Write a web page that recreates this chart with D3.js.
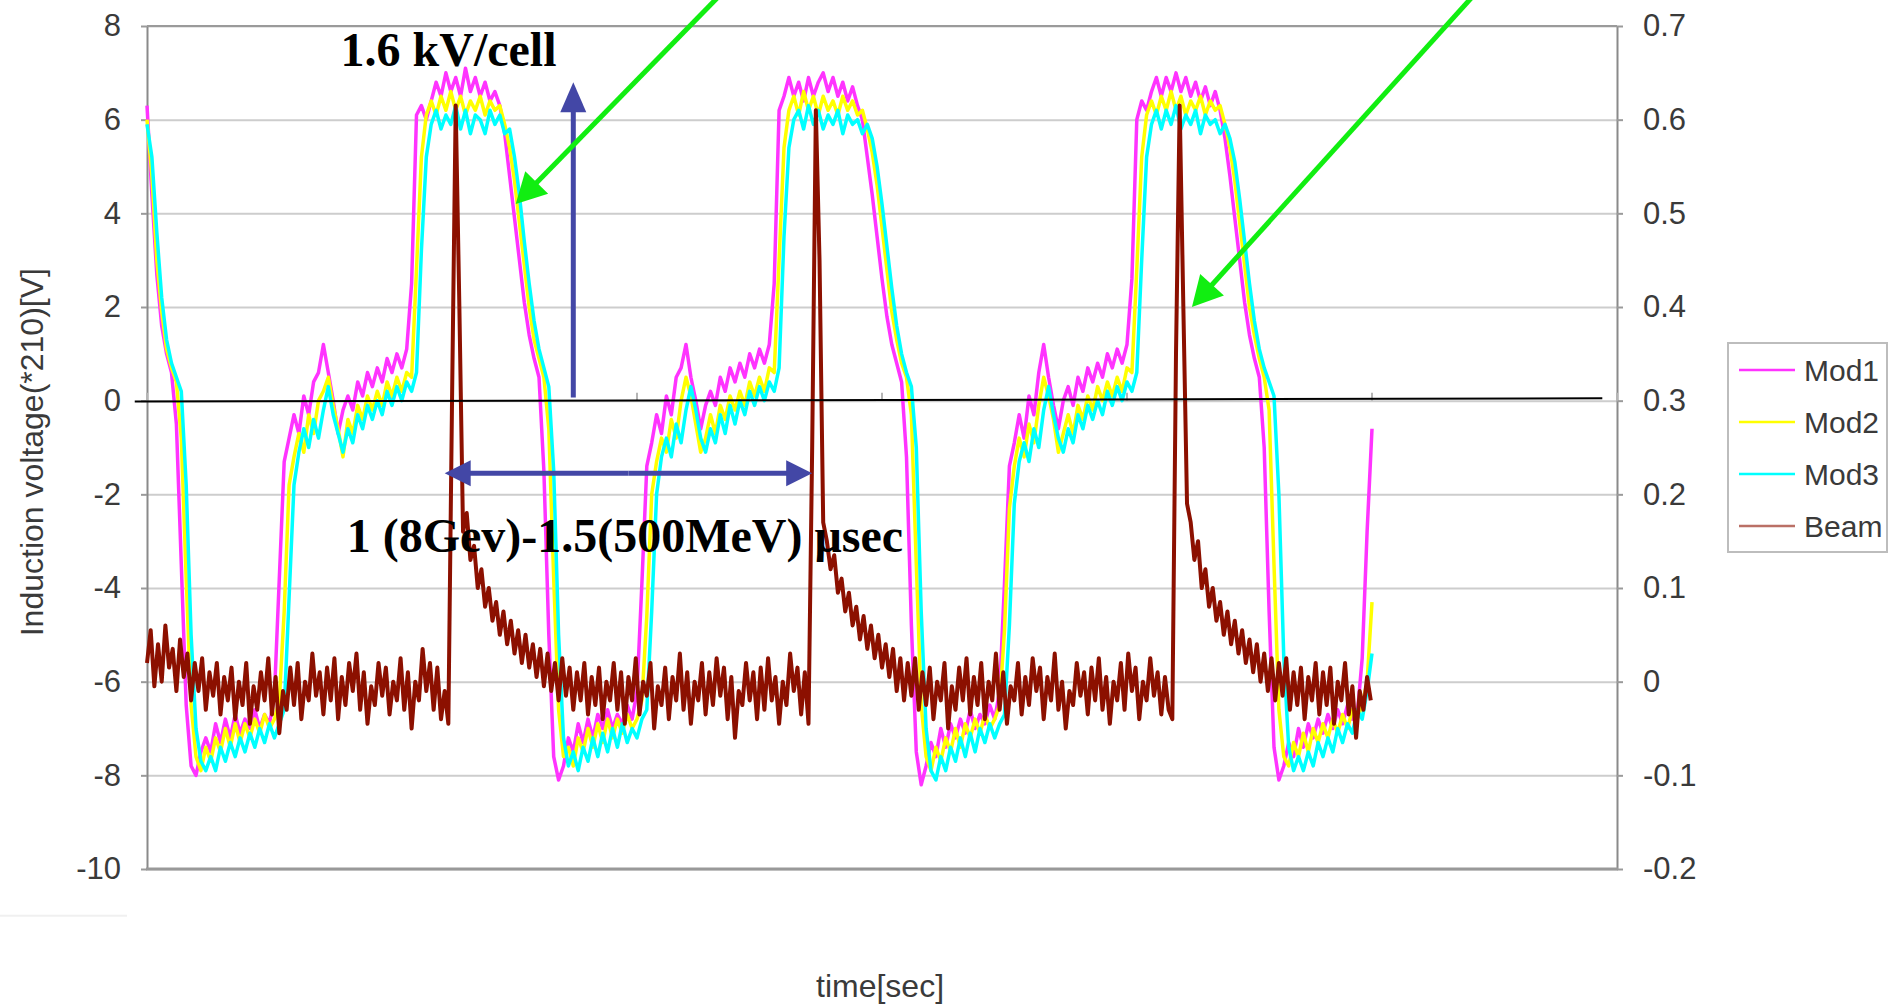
<!DOCTYPE html>
<html>
<head>
<meta charset="utf-8">
<script src="https://cdn.jsdelivr.net/npm/d3@7"></script>
<style>
  html, body { margin: 0; padding: 0; background: #fff; }
  svg { display: block; }
  .tick text { font-family: "Liberation Sans", Arial, sans-serif; font-size: 31px; fill: #3a3a3a; }
</style>
</head>
<body>
<svg id="chart" width="1892" height="1005"></svg>
<script>
// sampling interval of the scope traces (time units, axis has no labels)
const modStep = 4;
const beamStep = 3;

// induction voltage of the three modules, left axis [V]
const mod1 = [6.3, 4.4, 2.7, 1.6, 1.0, 0.6,
  -0.5, -3.5, -6.5, -7.8, -8.0, -7.5, -7.2, -7.5, -6.9, -7.3, -6.8, -7.2, -6.7, -7.1, -6.8, -7.0, -6.6, -7.0, -6.7, -6.9, -6.3,
  -3.8, -1.3, -0.8, -0.3, -0.7, 0.1, -0.3, 0.4, 0.6, 1.2, 0.6, 0.0, -0.7, -0.2, 0.1, -0.2, 0.4, 0.1, 0.6, 0.3, 0.7, 0.4, 0.9, 0.6, 1.0, 0.7, 1.1,
  2.5, 6.1, 6.3, 6.0, 6.4, 6.8, 6.5, 7.0, 6.6, 6.9, 6.5, 7.1, 6.6, 6.9, 6.5, 6.8, 6.4, 6.6, 6.3,
  5.7, 4.8, 3.9, 3.0, 2.1, 1.4, 0.9, 0.5,
  -1.5, -5.0, -7.6, -8.1, -7.8, -7.2, -7.5, -6.9, -7.3, -6.8, -7.2, -6.7, -7.0, -6.6, -7.0, -6.7, -6.9, -6.5, -6.8, -6.2,
  -3.9, -1.4, -0.9, -0.3, -0.7, 0.1, -0.3, 0.5, 0.7, 1.2, 0.5, 0.0, -0.6, -0.1, 0.2, -0.1, 0.5, 0.2, 0.7, 0.4, 0.8, 0.5, 1.0, 0.7, 1.1, 0.8, 1.2,
  2.5, 6.2, 6.5, 6.9, 6.5, 6.8, 6.4, 6.9, 6.5, 6.8, 7.0, 6.6, 6.9, 6.5, 6.8, 6.4, 6.7, 6.3, 6.0,
  5.2, 4.4, 3.5, 2.6, 1.8, 1.2, 0.8, 0.4,
  -1.2, -4.8, -7.5, -8.2, -7.8, -7.3, -7.6, -7.0, -7.4, -6.9, -7.2, -6.8, -7.1, -6.6, -7.0, -6.7, -6.9, -6.5, -6.8, -6.2,
  -3.9, -1.4, -0.9, -0.3, -0.8, 0.1, -0.3, 0.6, 1.2, 0.5, -0.1, -0.6, 0.0, 0.3, -0.1, 0.5, 0.2, 0.7, 0.4, 0.8, 0.5, 1.0, 0.7, 1.1, 0.8, 1.2,
  2.6, 6.0, 6.4, 6.2, 6.6, 6.9, 6.5, 6.9, 6.6, 7.0, 6.6, 6.9, 6.5, 6.8, 6.4, 6.7, 6.3, 6.6, 6.2,
  5.6, 4.8, 3.9, 3.0, 2.1, 1.4, 0.9, 0.5,
  -1.0, -4.5, -7.4, -8.1, -7.8, -7.3, -7.6, -7.0, -7.4, -6.9, -7.2, -6.8, -7.1, -6.7, -7.0, -6.6, -6.9, -6.5, -6.8, -6.7, -5.5, -2.8, -0.6];

const mod2 = [6.0, 4.8, 3.0, 1.9, 1.1, 0.7, 0.4,
  -0.8, -3.8, -6.5, -7.6, -7.9, -7.4, -7.7, -7.2, -7.5, -7.0, -7.4, -6.9, -7.3, -6.9, -7.2, -6.8, -7.1, -6.7, -7.0, -6.8, -6.4,
  -4.5, -1.8, -1.2, -0.7, -1.1, -0.3, -0.7, 0.0, 0.2, 0.5, -0.1, -0.6, -1.2, -0.4, -0.7, -0.1, -0.4, 0.1, -0.2, 0.2, -0.1, 0.4, 0.1, 0.5, 0.2, 0.6, 0.5,
  2.8, 5.2, 6.1, 6.4, 6.1, 6.5, 6.2, 6.6, 6.2, 6.5, 6.1, 6.4, 6.2, 6.5, 6.1, 6.4, 6.2, 6.3, 5.9,
  5.4, 4.7, 3.8, 2.9, 2.0, 1.3, 0.9, 0.5,
  -0.6, -3.8, -6.6, -7.6, -7.4, -7.8, -7.2, -7.5, -7.0, -7.4, -6.9, -7.3, -6.8, -7.2, -6.8, -7.1, -6.7, -7.0, -6.8, -6.4,
  -4.6, -2.0, -1.3, -0.8, -1.1, -0.4, -0.8, 0.0, 0.5, 0.1, -0.5, -1.1, -0.8, -0.3, -0.7, -0.1, -0.4, 0.1, -0.2, 0.2, -0.1, 0.4, 0.1, 0.5, 0.2, 0.7, 0.6,
  3.0, 5.4, 6.2, 6.5, 6.1, 6.6, 6.2, 6.5, 6.1, 6.5, 6.2, 6.4, 6.1, 6.5, 6.2, 6.4, 6.1, 6.2, 5.8,
  5.3, 4.6, 3.7, 2.8, 1.9, 1.3, 0.8, 0.5,
  -0.3, -3.5, -6.5, -7.6, -7.9, -7.4, -7.7, -7.2, -7.5, -7.0, -7.4, -6.9, -7.2, -6.8, -7.1, -6.7, -7.0, -6.8, -6.5,
  -4.9, -2.3, -1.4, -0.8, -1.2, -0.5, -0.9, -0.1, 0.5, 0.1, -0.4, -1.1, -0.7, -0.3, -0.7, -0.1, -0.4, 0.1, -0.2, 0.3, 0.0, 0.4, 0.1, 0.5, 0.2, 0.7, 0.6,
  2.8, 5.2, 6.1, 6.4, 6.1, 6.5, 6.2, 6.6, 6.2, 6.5, 6.1, 6.4, 6.2, 6.5, 6.1, 6.4, 6.2, 6.3, 5.9,
  5.4, 4.7, 3.8, 2.9, 2.0, 1.4, 0.9, 0.5,
  -0.2, -3.5, -6.6, -7.6, -7.8, -7.3, -7.6, -7.1, -7.5, -7.0, -7.3, -6.9, -7.2, -6.8, -7.1, -6.7, -7.0, -6.6, -6.8, -6.5, -6.0, -4.3];

const mod3 = [5.9, 5.2, 3.6, 2.2, 1.3, 0.8, 0.5, 0.2,
  -1.8, -5.0, -7.0, -7.7, -7.9, -7.6, -7.9, -7.4, -7.7, -7.3, -7.6, -7.2, -7.5, -7.1, -7.4, -7.0, -7.3, -6.9, -7.2, -6.9, -6.6,
  -4.2, -1.8, -1.1, -0.6, -1.0, -0.4, -0.8, -0.2, 0.3, -0.3, -0.7, -1.1, -0.6, -0.9, -0.3, -0.6, -0.1, -0.4, 0.0, -0.3, 0.2, -0.1, 0.3, 0.0, 0.4, 0.2, 0.6,
  3.2, 5.2, 5.9, 6.2, 5.8, 6.1, 5.9, 6.3, 5.8, 6.2, 5.7, 6.1, 6.0, 5.7, 6.2, 5.9, 6.1, 5.7, 5.8,
  5.2, 4.4, 3.4, 2.5, 1.7, 1.1, 0.7, 0.3,
  -1.5, -5.0, -7.2, -7.8, -7.5, -7.9, -7.4, -7.7, -7.2, -7.6, -7.1, -7.5, -7.0, -7.4, -6.9, -7.3, -7.0, -7.2, -6.8, -6.6,
  -4.5, -2.0, -1.2, -0.8, -1.2, -0.5, -0.9, -0.2, 0.3, -0.2, -0.8, -1.1, -0.6, -0.9, -0.3, -0.7, -0.1, -0.5, 0.0, -0.3, 0.2, -0.1, 0.3, 0.0, 0.4, 0.2, 0.7,
  3.5, 5.4, 6.0, 6.2, 5.8, 6.3, 5.9, 6.2, 5.8, 6.1, 5.9, 6.2, 5.7, 6.1, 5.9, 6.0, 5.7, 5.9, 5.6,
  5.0, 4.2, 3.3, 2.4, 1.6, 1.0, 0.6, 0.3,
  -1.0, -4.5, -7.0, -7.9, -8.1, -7.6, -7.9, -7.4, -7.7, -7.2, -7.6, -7.1, -7.5, -7.0, -7.3, -6.9, -7.2, -6.9, -6.7,
  -4.8, -2.2, -1.3, -0.9, -1.3, -0.6, -1.0, -0.2, 0.3, -0.3, -0.8, -1.1, -0.6, -0.9, -0.3, -0.6, -0.1, -0.4, 0.0, -0.3, 0.2, -0.1, 0.3, 0.0, 0.4, 0.2, 0.6,
  3.0, 5.2, 5.9, 6.2, 5.8, 6.2, 5.9, 6.3, 5.8, 6.1, 5.9, 6.2, 5.7, 6.1, 5.9, 6.0, 5.7, 5.9, 5.6,
  5.1, 4.3, 3.4, 2.5, 1.7, 1.1, 0.7, 0.4, 0.1,
  -2.0, -5.5, -7.4, -7.9, -7.6, -7.9, -7.5, -7.8, -7.3, -7.6, -7.2, -7.5, -7.0, -7.3, -6.9, -7.1, -6.6, -6.8, -6.2, -5.4];

// beam monitor signal, right axis
const beam = [0.02, 0.055, -0.005, 0.04, 0.0, 0.06, 0.015, 0.035, -0.01, 0.045, 0.005, 0.03, -0.02, 0.02, -0.01, 0.025,
  -0.03, 0.01, -0.015, 0.02, -0.035, 0.005, -0.02, 0.015, -0.04, 0.0, -0.025, 0.02, -0.045, -0.005, -0.03, 0.01,
  -0.02, 0.025, -0.035, 0.005, -0.055, -0.01, -0.03, 0.015, -0.025, 0.02, -0.04, 0.0, -0.02, 0.03, -0.015, 0.01,
  -0.035, 0.015, -0.02, 0.025, -0.04, 0.005, -0.025, 0.02, -0.01, 0.03, -0.03, 0.01, -0.045, -0.005, -0.025, 0.02,
  -0.015, 0.015, -0.035, 0.0, -0.02, 0.025, -0.03, 0.01, -0.05, 0.0, -0.02, 0.035, -0.01, 0.02, -0.03, 0.015, -0.04, -0.01,
  -0.045, 0.30, 0.615, 0.40, 0.16, 0.18, 0.13, 0.145, 0.10, 0.12, 0.08, 0.10, 0.065, 0.085, 0.05, 0.075,
  0.04, 0.065, 0.03, 0.055, 0.02, 0.05, 0.015, 0.04, 0.005, 0.035, -0.005, 0.03, -0.01, 0.02, -0.02, 0.025,
  -0.015, 0.015, -0.03, 0.01, -0.02, 0.02, -0.035, 0.005, -0.025, 0.015, -0.04, 0.0, -0.02, 0.02,
  -0.03, 0.01, -0.045, 0.005, -0.02, 0.025, -0.035, 0.0, -0.015, 0.02, -0.05, -0.005, -0.025, 0.015, -0.04, 0.005,
  -0.02, 0.03, -0.03, 0.01, -0.045, 0.0, -0.02, 0.02, -0.035, 0.01, -0.025, 0.025, -0.015, 0.015, -0.04, 0.005,
  -0.06, -0.01, -0.025, 0.02, -0.02, 0.01, -0.04, 0.015, -0.03, 0.025, -0.02, 0.005, -0.045, 0.0, -0.025, 0.03,
  -0.01, 0.015, -0.035, 0.01,
  -0.045, 0.25, 0.61, 0.45, 0.17, 0.15, 0.12, 0.135, 0.095, 0.11, 0.075, 0.095, 0.06, 0.08, 0.045, 0.07,
  0.035, 0.06, 0.025, 0.05, 0.015, 0.04, 0.005, 0.035, -0.01, 0.025, -0.02, 0.02, -0.015, 0.025, -0.03, 0.01,
  -0.025, 0.015, -0.04, 0.0, -0.02, 0.02, -0.05, -0.005, -0.03, 0.015, -0.02, 0.025, -0.035, 0.005,
  -0.025, 0.02, -0.04, 0.0, -0.02, 0.03, -0.03, 0.01, -0.045, -0.005, -0.02, 0.02, -0.035, 0.005, -0.025, 0.025,
  -0.01, 0.015, -0.04, 0.005, -0.02, 0.03, -0.03, 0.0, -0.05, -0.01, -0.025, 0.02, -0.015, 0.01, -0.035, 0.015,
  -0.02, 0.025, -0.03, 0.005, -0.045, 0.0, -0.02, 0.02, -0.03, 0.03, -0.01, 0.015, -0.04, 0.0, -0.02, 0.025,
  -0.015, 0.01, -0.035, 0.005,
  -0.03, -0.04, 0.35, 0.615, 0.40, 0.19, 0.17, 0.13, 0.15, 0.10, 0.12, 0.08, 0.10, 0.065, 0.085, 0.05,
  0.075, 0.04, 0.065, 0.03, 0.055, 0.02, 0.045, 0.01, 0.04, 0.0, 0.03, -0.01, 0.025, -0.02, 0.02, -0.015,
  0.025, -0.03, 0.01, -0.025, 0.015, -0.04, 0.005, -0.02, 0.02, -0.035, 0.01, -0.025, 0.015, -0.045, 0.0, -0.02,
  0.02, -0.035, -0.005, -0.06, -0.01, -0.03, 0.005, -0.02];

const seriesNames = ["Mod1", "Mod2", "Mod3", "Beam"];
const seriesColors = ["#ff33ff", "#ffff00", "#00ffff", "#8c1000"];
const leftTicks = [-10, -8, -6, -4, -2, 0, 2, 4, 6, 8];
const rightTicks = [-0.2, -0.1, 0, 0.1, 0.2, 0.3, 0.4, 0.5, 0.6, 0.7];
const timeTicks = [0, 200, 400, 600, 800, 1000, 1200];

const svg = d3.select("#chart");
const margin = { left: 147, right: 275, top: 26, bottom: 136 };
const W = 1892, H = 1005;
const plotW = W - margin.left - margin.right;
const plotH = H - margin.top - margin.bottom;

const x = d3.scaleLinear().domain([0, 1200]).range([margin.left, margin.left + plotW]);
const yL = d3.scaleLinear().domain([-10, 8]).range([margin.top + plotH, margin.top]);
const yR = d3.scaleLinear().domain([-0.2, 0.7]).range([margin.top + plotH, margin.top]);

svg.append("rect").attr("width", W).attr("height", H).attr("fill", "#fff");

// faint stray rule below the axis labels
svg.append("line")
  .attr("x1", 0).attr("x2", margin.left - 20)
  .attr("y1", yL(-11)).attr("y2", yL(-11))
  .attr("stroke", "#f0f0f0").attr("stroke-width", 2);

// gridlines
svg.append("g")
  .attr("transform", "translate(" + margin.left + ",0)")
  .call(d3.axisLeft(yL).tickValues(leftTicks).tickSize(-plotW).tickFormat(""))
  .call(g => g.select(".domain").remove())
  .call(g => g.selectAll(".tick line").attr("stroke", "#cdcdcd").attr("stroke-width", 2));

// left axis
svg.append("g")
  .attr("transform", "translate(" + margin.left + ",0)")
  .call(d3.axisLeft(yL).tickValues(leftTicks).tickSize(6).tickSizeOuter(0).tickPadding(20).tickFormat(d => String(d)))
  .call(g => g.select(".domain").attr("stroke", "#8a8a8a").attr("stroke-width", 2))
  .call(g => g.selectAll(".tick line").attr("stroke", "#9a9a9a").attr("stroke-width", 2));

// right axis
svg.append("g")
  .attr("transform", "translate(" + (margin.left + plotW) + ",0)")
  .call(d3.axisRight(yR).tickValues(rightTicks).tickSize(6).tickSizeOuter(0).tickPadding(20).tickFormat(d => String(d)))
  .call(g => g.select(".domain").attr("stroke", "#8a8a8a").attr("stroke-width", 2))
  .call(g => g.selectAll(".tick line").attr("stroke", "#9a9a9a").attr("stroke-width", 2));

// plot frame top / bottom
svg.append("line")
  .attr("x1", margin.left).attr("x2", margin.left + plotW)
  .attr("y1", yL(8)).attr("y2", yL(8))
  .attr("stroke", "#9a9a9a").attr("stroke-width", 2);
svg.append("line")
  .attr("x1", margin.left - 1).attr("x2", margin.left + plotW + 1)
  .attr("y1", yL(-10)).attr("y2", yL(-10))
  .attr("stroke", "#999").attr("stroke-width", 3);

// small time ticks sitting on the zero line
svg.append("g").selectAll("line")
  .data(timeTicks)
  .join("line")
  .attr("x1", d => x(d)).attr("x2", d => x(d))
  .attr("y1", yL(0)).attr("y2", yL(0) - 8)
  .attr("stroke", "#b5b5b5").attr("stroke-width", 2);

// traces
const modLine = d3.line().x((d, i) => x(i * modStep)).y(d => yL(d));
const beamLine = d3.line().x((d, i) => x(i * beamStep)).y(d => yR(d));

[mod1, mod2, mod3].forEach((s, k) => {
  svg.append("path")
    .datum(s)
    .attr("d", modLine)
    .attr("fill", "none")
    .attr("stroke", seriesColors[k])
    .attr("stroke-width", 3.5)
    .attr("stroke-linejoin", "round");
});

svg.append("path")
  .datum(beam)
  .attr("d", beamLine)
  .attr("fill", "none")
  .attr("stroke", seriesColors[3])
  .attr("stroke-width", 4)
  .attr("stroke-linejoin", "round");

// axis titles
svg.append("text")
  .attr("transform", "translate(32," + yL(-1.1) + ") rotate(-90)")
  .attr("text-anchor", "middle")
  .attr("dominant-baseline", "central")
  .style("font-family", "'Liberation Sans', Arial, sans-serif")
  .style("font-size", "32px")
  .style("fill", "#3a3a3a")
  .text("Induction voltage(*210)[V]");

svg.append("text")
  .attr("x", x(600) - 2)
  .attr("y", 997)
  .attr("text-anchor", "middle")
  .style("font-family", "'Liberation Sans', Arial, sans-serif")
  .style("font-size", "32px")
  .style("fill", "#3a3a3a")
  .text("time[sec]");

// legend
const legend = svg.append("g").attr("transform", "translate(1728,343)");
legend.append("rect")
  .attr("width", 159).attr("height", 209)
  .attr("fill", "#fff").attr("stroke", "#bdbdbd").attr("stroke-width", 2);
const item = legend.selectAll(".item")
  .data(seriesNames)
  .join("g")
  .attr("class", "item")
  .attr("transform", (d, i) => "translate(0," + (27 + i * 52) + ")");
item.append("line")
  .attr("x1", 11).attr("x2", 67)
  .attr("stroke", (d, i) => seriesColors[i])
  .attr("stroke-opacity", (d, i) => i === 3 ? 0.6 : 1)
  .attr("stroke-width", 2.5);
item.append("text")
  .attr("x", 76).attr("dy", "0.36em")
  .style("font-family", "'Liberation Sans', Arial, sans-serif")
  .style("font-size", "30px")
  .style("fill", "#3a3a3a")
  .text(d => d);

// annotations (anchored in axis units)
const zeroLine = { t0: -10, v0: -0.02, t1: 1188, v1: 0.05 };
const voltArrow = { t: 348, vFrom: 0.07, vTo: 6.8 };
const periodArrow = { v: -1.55, tFrom: 243, tTo: 543 };
const greenArrows = [
  { tFrom: 473, vFrom: 8.8, tTo: 301, vTo: 4.2 },
  { tFrom: 1088, vFrom: 8.8, tTo: 853, vTo: 2.0 }
];
const notes = [
  { text: "1.6 kV/cell", t: 158, v: 7.15 },
  { text: "1 (8Gev)-1.5(500MeV) \u03bcsec", t: 163, v: -3.24 }
];

svg.append("line")
  .attr("x1", x(zeroLine.t0)).attr("y1", yL(zeroLine.v0))
  .attr("x2", x(zeroLine.t1)).attr("y2", yL(zeroLine.v1))
  .attr("stroke", "#000").attr("stroke-width", 2);

function arrow(x1, y1, x2, y2, color, width, headLen, headW) {
  const dx = x2 - x1, dy = y2 - y1;
  const len = Math.sqrt(dx * dx + dy * dy);
  const ux = dx / len, uy = dy / len;
  const bx = x2 - ux * headLen, by = y2 - uy * headLen;
  svg.append("line")
    .attr("x1", x1).attr("y1", y1).attr("x2", bx + ux * 2).attr("y2", by + uy * 2)
    .attr("stroke", color).attr("stroke-width", width);
  svg.append("path")
    .attr("d", "M" + x2 + "," + y2 +
      "L" + (bx - uy * headW / 2) + "," + (by + ux * headW / 2) +
      "L" + (bx + uy * headW / 2) + "," + (by - ux * headW / 2) + "Z")
    .attr("fill", color);
}

const blue = "#4347a6";
arrow(x(voltArrow.t), yL(voltArrow.vFrom), x(voltArrow.t), yL(voltArrow.vTo), blue, 5, 30, 26);
const midT = (periodArrow.tFrom + periodArrow.tTo) / 2;
arrow(x(midT), yL(periodArrow.v), x(periodArrow.tFrom), yL(periodArrow.v), blue, 5, 26, 26);
arrow(x(midT), yL(periodArrow.v), x(periodArrow.tTo), yL(periodArrow.v), blue, 5, 26, 26);

greenArrows.forEach(a => {
  arrow(x(a.tFrom), yL(a.vFrom), x(a.tTo), yL(a.vTo), "#11ee11", 5, 30, 32);
});

svg.selectAll(".note")
  .data(notes)
  .join("text")
  .attr("class", "note")
  .attr("x", d => x(d.t))
  .attr("y", d => yL(d.v))
  .style("font-family", "'Liberation Serif', 'Times New Roman', serif")
  .style("font-weight", "bold")
  .style("font-size", "48px")
  .style("fill", "#000")
  .text(d => d.text);
</script>
</body>
</html>
